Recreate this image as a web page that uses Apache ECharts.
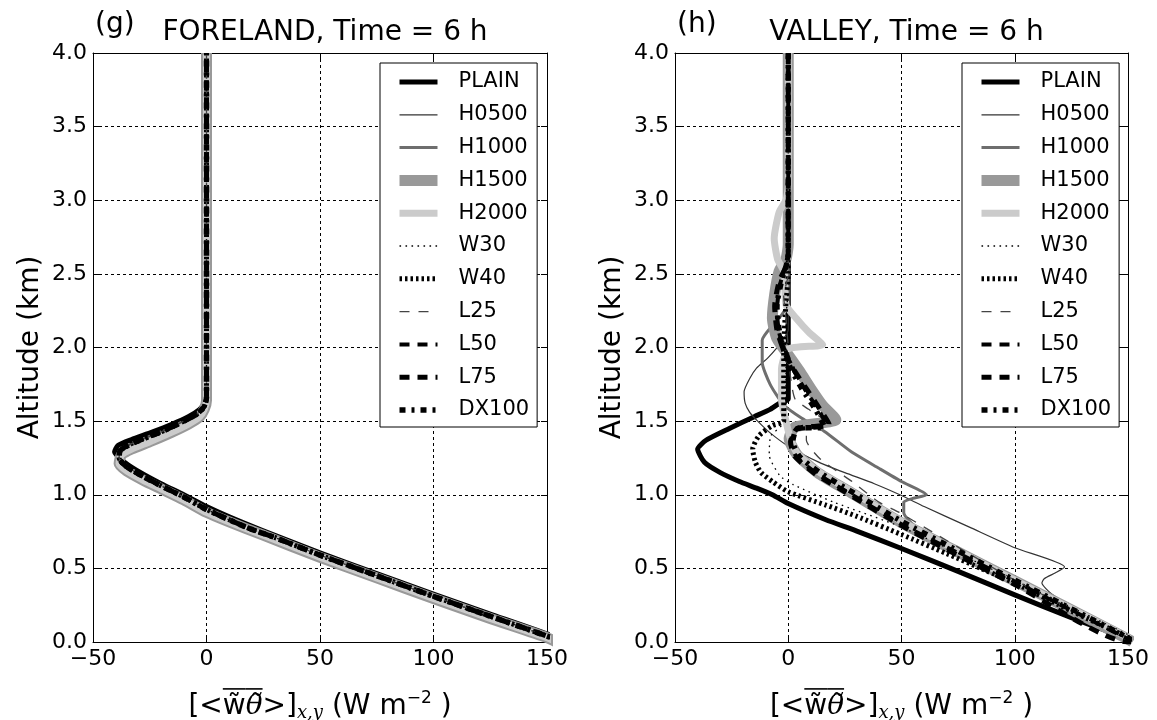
<!DOCTYPE html>
<html><head><meta charset="utf-8">
<script src="https://cdn.jsdelivr.net/npm/echarts@6/dist/echarts.min.js"></script>
<style>html,body{margin:0;padding:0;background:#fff}#c{width:1157px;height:720px}</style>
</head><body><div id="c"></div><script>
// ---------- tick labels ----------
const X_TICKS = [-50, 0, 50, 100, 150];
const Y_TICKS = [0.0, 0.5, 1.0, 1.5, 2.0, 2.5, 3.0, 3.5, 4.0];
const NAMES = ['PLAIN','H0500','H1000','H1500','H2000','W30','W40','L25','L50','L75','DX100'];
const PANEL_TITLES = ['FORELAND, Time = 6 h', 'VALLEY, Time = 6 h'];
const PANEL_TAGS = ['(g)', '(h)'];

// ---------- left panel (FORELAND): [flux, altitude km] ----------
const L_BASE = [[156,0.0],[150,0.04],[125,0.175],[100,0.31],[75,0.45],[50,0.59],[30,0.71],[19,0.77],[10,0.83],[0,0.9],[-10,0.985],[-18,1.045],[-25,1.1],[-31,1.15],[-36,1.2],[-38.5,1.25],[-38,1.3],[-34,1.34],[-27,1.385],[-18,1.44],[-10,1.5],[-4,1.55],[-1,1.6],[0,1.66],[0,4.0]];
const L_PLAIN = [[158,0.0],[150,0.055],[125,0.19],[100,0.325],[75,0.465],[50,0.605],[25,0.755],[10,0.85],[0,0.92],[-10,1.0],[-20,1.075],[-29,1.15],[-36,1.22],[-40.5,1.29],[-39,1.335],[-33,1.375],[-24,1.425],[-15,1.48],[-8,1.53],[-3,1.58],[-1,1.62],[0,1.67],[0,4.0]];
const L_H1500 = [[154,0.0],[150,0.03],[125,0.16],[100,0.295],[75,0.435],[50,0.575],[25,0.725],[10,0.815],[0,0.88],[-10,0.965],[-20,1.04],[-28,1.1],[-35,1.16],[-38.5,1.21],[-37.5,1.27],[-33,1.31],[-25,1.36],[-16,1.42],[-8,1.48],[-3,1.53],[-1,1.58],[0,1.64],[0,4.0]];

// ---------- right panel (VALLEY) ----------
const R_PLAIN = [[152,0.0],[150,0.02],[125,0.165],[100,0.32],[75,0.48],[50,0.635],[30,0.755],[16.6,0.83],[0,0.94],[-7,1.0],[-14,1.045],[-21.6,1.09],[-30,1.15],[-37,1.22],[-40,1.31],[-36.3,1.37],[-26,1.45],[-15,1.53],[-8,1.58],[-4,1.62],[0,1.65],[0,4.0]];
const R_H0500 = [[152,0.0],[150,0.02],[130,0.19],[116,0.33],[112,0.4],[113,0.43],[118,0.47],[122,0.51],[100,0.64],[80,0.78],[60,0.92],[50,0.995],[38,1.075],[25,1.15],[13.7,1.22],[0,1.33],[-8,1.42],[-13.5,1.5],[-17,1.56],[-19,1.62],[-19.5,1.7],[-17,1.79],[-14,1.86],[-9,1.93],[-5.4,1.99],[-2,2.06],[0,2.12],[0,4.0]];
const R_H1000 = [[152,0.0],[150,0.02],[100,0.41],[75,0.61],[58,0.76],[53,0.83],[51,0.88],[51,0.95],[55,0.975],[61,1.0],[50,1.09],[40,1.18],[28,1.29],[16,1.43],[6,1.52],[-2,1.61],[-8,1.75],[-11.5,1.9],[-11.5,2.05],[-7,2.15],[-3,2.22],[0,2.3],[0,4.0]];
const R_H1500 = [[152,0.0],[150,0.02],[100,0.415],[75,0.61],[50,0.81],[26,1.03],[13,1.15],[4,1.27],[0.4,1.38],[3,1.46],[21,1.51],[15,1.61],[10,1.72],[5,1.84],[0,1.95],[-5,2.06],[-7,2.2],[-6,2.36],[-4,2.52],[-1,2.6],[0,2.7],[0,4.0]];
const R_H2000 = [[152,0.0],[150,0.03],[100,0.42],[50,0.82],[26,1.04],[13,1.16],[4,1.28],[1,1.38],[-1,1.5],[-3,1.65],[-3,1.85],[0,1.99],[15.2,2.02],[9.3,2.1],[3.4,2.2],[-1,2.29],[-1.8,2.51],[-4.7,2.6],[-6.2,2.74],[-4,2.92],[-1,3.0],[0,3.1],[0,4.0]];
const R_W30 = [[152,0.03],[150,0.05],[100,0.42],[50,0.78],[20,0.95],[2,1.07],[-3.7,1.13],[-8.4,1.27],[-7.7,1.4],[-3,1.47],[-1,1.6],[-1,2.2],[0,2.4],[0,4.0]];
const R_W40 = [[152,0.0],[150,0.03],[125,0.21],[100,0.4],[85,0.5],[70,0.6],[50,0.73],[30,0.855],[16.6,0.93],[0,1.02],[-7,1.09],[-12,1.15],[-14.5,1.22],[-15.7,1.31],[-13,1.4],[-7,1.47],[-2,1.5],[-2,1.7],[-2,2.0],[-1,2.3],[0,2.5],[0,4.0]];
const R_L25 = [[152,0.01],[150,0.03],[100,0.42],[60,0.78],[49,0.88],[40,0.95],[28.5,1.086],[14,1.245],[8,1.37],[8,1.43],[17,1.49],[9,1.58],[3,1.65],[1,1.8],[0,2.0],[-1,2.2],[-2,2.35],[0,2.5],[0,4.0]];
const R_L50 = [[152,0.0],[150,0.02],[100,0.41],[50,0.8],[26,1.02],[13,1.14],[4,1.25],[1,1.35],[3,1.44],[17,1.47],[14,1.56],[8,1.7],[3,1.83],[-1,1.97],[-4,2.1],[-5,2.25],[-4,2.4],[-2,2.52],[0,2.6],[0,4.0]];
const R_L75 = [[152,0.0],[150,0.0],[100,0.39],[50,0.79],[25,1.02],[12,1.14],[3,1.26],[1,1.36],[4,1.45],[18,1.48],[14,1.58],[8,1.72],[2,1.86],[-2,1.98],[-5,2.12],[-6,2.28],[-4,2.45],[-1,2.55],[0,2.65],[0,4.0]];
const R_DX100 = [[152,0.01],[150,0.03],[100,0.42],[50,0.82],[27,1.03],[14,1.15],[5,1.26],[2,1.36],[4,1.45],[16,1.46],[12,1.58],[6,1.72],[1,1.86],[-2,1.98],[-4,2.12],[-5,2.28],[-3,2.45],[-1,2.55],[0,2.62],[0,4.0]];

const LEFT_DATA = {PLAIN:L_PLAIN,H0500:L_BASE,H1000:L_BASE,H1500:L_H1500,H2000:L_H1500,W30:L_BASE,W40:L_BASE,L25:L_BASE,L50:L_BASE,L75:L_BASE,DX100:L_BASE};
const RIGHT_DATA = {PLAIN:R_PLAIN,H0500:R_H0500,H1000:R_H1000,H1500:R_H1500,H2000:R_H2000,W30:R_W30,W40:R_W40,L25:R_L25,L50:R_L50,L75:R_L75,DX100:R_DX100};

// ---------- styles ----------
const STYLE = {
  PLAIN:{color:'#000',width:5,type:'solid'},
  H0500:{color:'#333',width:1.2,type:'solid'},
  H1000:{color:'#6e6e6e',width:3,type:'solid'},
  H1500:{color:'#999',width:11,type:'solid'},
  H2000:{color:'#cbcbcb',width:7,type:'solid'},
  W30:{color:'#000',width:1.3,type:[1.6,4.4]},
  W40:{color:'#000',width:5,type:[2.5,3]},
  L25:{color:'#444',width:1.3,type:[10,9]},
  L50:{color:'#000',width:4,type:[10,8]},
  L75:{color:'#000',width:5,type:[10,8]},
  DX100:{color:'#000',width:5.5,type:[6,6,3,6]}
};
const FONT = 'DejaVu Sans';
const GRIDS = [{left:93,top:53,width:454,height:589},{left:675,top:53,width:453,height:589}];
const LEG_LEFT = [380, 962];

const xMin = X_TICKS[0], xMax = X_TICKS[X_TICKS.length-1], xInt = X_TICKS[1]-X_TICKS[0];
const yMin = Y_TICKS[0], yMax = Y_TICKS[Y_TICKS.length-1], yInt = Y_TICKS[1]-Y_TICKS[0];

const CLR = 'rgba(0,0,0,0)';
const XNAME = '{A|[<}{Ow|w\u0303}{Ot|\u03b8\u0303}{A|>]}{S|x,y}{A| (W m}{P|\u22122}{A| )}\n' +
              '{a|[<w\u0303}{t|\u03b8\u0303}{a|>]}{s|x,y}{a| (W m}{p|\u22122}{a| )}';
const XRICH = {
  A:{fontFamily:FONT, fontSize:28, color:CLR, lineHeight:3},
  Ow:{fontFamily:FONT, fontSize:28, color:CLR, lineHeight:3, height:1.6, backgroundColor:'#000'},
  Ot:{fontFamily:'DejaVu Serif', fontStyle:'italic', fontSize:28, color:CLR, lineHeight:3, height:1.6, backgroundColor:'#000'},
  S:{fontFamily:'DejaVu Serif', fontStyle:'italic', fontSize:18, color:CLR, lineHeight:3},
  P:{fontFamily:FONT, fontSize:17, color:CLR, lineHeight:3},
  a:{fontFamily:FONT, fontSize:28, color:'#000', lineHeight:32},
  t:{fontFamily:'DejaVu Serif', fontStyle:'italic', fontSize:28, color:'#000', lineHeight:32},
  s:{fontFamily:'DejaVu Serif', fontStyle:'italic', fontSize:18, color:'#000', lineHeight:22, verticalAlign:'bottom'},
  p:{fontFamily:FONT, fontSize:17, color:'#000', lineHeight:18, verticalAlign:'top'}
};

const xAxes = [], yAxes = [], series = [], titles = [], legends = [];
GRIDS.forEach((g, gi) => {
  xAxes.push({
    type:'value', gridIndex:gi, position:'bottom', min:xMin, max:xMax, interval:xInt,
    axisLine:{show:true, onZero:false, lineStyle:{color:'#000',width:1}},
    axisTick:{show:true, inside:true, length:6, lineStyle:{color:'#000'}},
    axisLabel:{show:true, margin:6, color:'#000', fontFamily:FONT, fontSize:22, showMinLabel:true, showMaxLabel:true,
      formatter:v => v < 0 ? '\u2212' + (-v) : String(v)},
    splitLine:{show:true, lineStyle:{color:'#000', width:1, type:[3,3]}},
    name:XNAME, nameLocation:'middle', nameGap:29,
    nameTextStyle:{color:'#000', fontFamily:FONT, fontSize:28, rich:XRICH}
  });
  xAxes.push({
    type:'value', gridIndex:gi, position:'top', min:xMin, max:xMax, interval:xInt,
    axisLine:{show:true, onZero:false, lineStyle:{color:'#000',width:1}},
    axisTick:{show:true, inside:true, length:6, lineStyle:{color:'#000'}},
    axisLabel:{show:false}, splitLine:{show:false}
  });
  yAxes.push({
    type:'value', gridIndex:gi, position:'left', min:yMin, max:yMax, interval:yInt,
    axisLine:{show:true, onZero:false, lineStyle:{color:'#000',width:1}},
    axisTick:{show:true, inside:true, length:6, lineStyle:{color:'#000'}},
    axisLabel:{show:true, margin:6, color:'#000', fontFamily:FONT, fontSize:22, showMinLabel:true, showMaxLabel:true,
      formatter:v => v.toFixed(1)},
    splitLine:{show:true, lineStyle:{color:'#000', width:1, type:[3,3]}},
    name:'Altitude (km)', nameLocation:'middle', nameGap:48,
    nameTextStyle:{color:'#000', fontFamily:FONT, fontSize:28}
  });
  yAxes.push({
    type:'value', gridIndex:gi, position:'right', min:yMin, max:yMax, interval:yInt,
    axisLine:{show:true, onZero:false, lineStyle:{color:'#000',width:1}},
    axisTick:{show:true, inside:true, length:6, lineStyle:{color:'#000'}},
    axisLabel:{show:false}, splitLine:{show:false}
  });
  const dataMap = gi === 0 ? LEFT_DATA : RIGHT_DATA;
  NAMES.forEach(n => {
    const s = STYLE[n];
    series.push({
      type:'line', name:n, data:dataMap[n], xAxisIndex:gi*2, yAxisIndex:gi*2,
      symbol:'none', showSymbol:false, smooth:0.2, clip:true, silent:true, animation:false,
      lineStyle:{color:s.color, width:s.width, type:s.type, cap:'butt', join:'round'},
      itemStyle:{color:s.color}, emphasis:{disabled:true}
    });
  });
  titles.push({text:PANEL_TAGS[gi], left:g.left - 3, top:6,
    textStyle:{fontFamily:FONT, fontSize:28, fontWeight:'normal', color:'#000'}});
  titles.push({text:PANEL_TITLES[gi], left:g.left + g.width/2, textAlign:'center', top:14,
    textStyle:{fontFamily:FONT, fontSize:28, fontWeight:'normal', color:'#000'}});
  legends.push({
    data:NAMES, orient:'vertical', left:LEG_LEFT[gi], top:63,
    backgroundColor:'#fff', borderColor:'#000', borderWidth:1, borderRadius:0,
    padding:[7,8,5,14], itemWidth:38, itemHeight:14, itemGap:8.8,
    selectedMode:false,
    itemStyle:{opacity:0},
    lineStyle:{width:'inherit'},
    textStyle:{fontFamily:FONT, fontSize:21, color:'#000', lineHeight:24, padding:[0,0,0,16]}
  });
});

const chart = echarts.init(document.getElementById('c'), null, {renderer:'canvas'});
chart.setOption({
  animation:false, backgroundColor:'#fff',
  title:titles, legend:legends,
  grid:GRIDS.map(g => Object.assign({show:false, containLabel:false, outerBoundsMode:'none'}, g)),
  xAxis:xAxes, yAxis:yAxes, series:series
});
</script></body></html>
